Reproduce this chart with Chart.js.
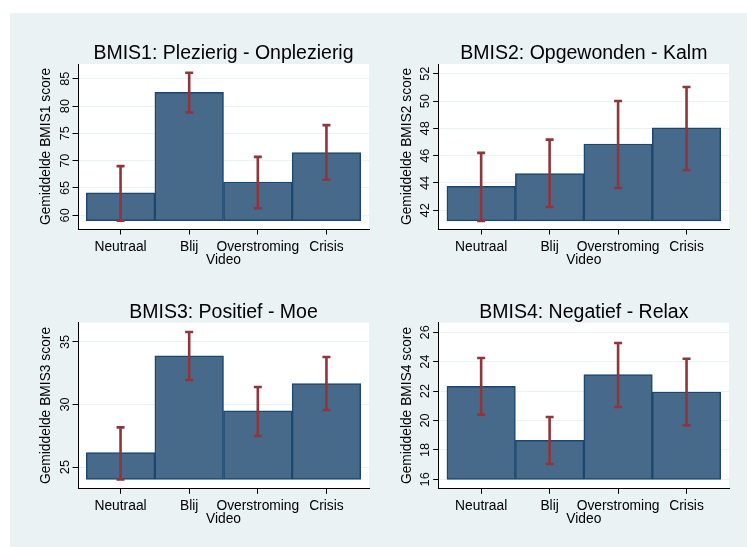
<!DOCTYPE html>
<html>
<head>
<meta charset="utf-8">
<script src="https://cdn.jsdelivr.net/npm/chart.js@4.4.1/dist/chart.umd.min.js"></script>
<style>
  body { margin: 0; background: #fff; }
  #wrap { position: relative; width: 747px; height: 547px; overflow: hidden; }
  #bg { position: absolute; left: 10px; top: 13px; right: 0; bottom: 0; background: #eaf2f3; }
  canvas { position: absolute; }
</style>
</head>
<body>
<div id="wrap">
  <div id="bg"></div>
  <canvas id="c1" width="368" height="262" style="left:10px;top:13px"></canvas>
  <canvas id="c2" width="369" height="262" style="left:378px;top:13px"></canvas>
  <canvas id="c3" width="368" height="272" style="left:10px;top:275px"></canvas>
  <canvas id="c4" width="369" height="272" style="left:378px;top:275px"></canvas>
</div>
<script>
// categories
const videos = ['Neutraal', 'Blij', 'Overstroming', 'Crisis'];

// mean scores and confidence bounds per panel
const bmis1Mean = [64.1, 82.5, 66.1, 71.5];
const bmis1Lo   = [59.0, 78.8, 61.3, 66.5];
const bmis1Hi   = [69.0, 86.1, 70.7, 76.5];

const bmis2Mean = [43.76, 44.68, 46.85, 48.03];
const bmis2Lo   = [41.22, 42.24, 43.63, 44.95];
const bmis2Hi   = [46.2, 47.17, 50.0, 51.03];

const bmis3Mean = [26.15, 33.9, 29.5, 31.67];
const bmis3Lo   = [24.0, 31.96, 27.48, 29.56];
const bmis3Hi   = [28.17, 35.8, 31.4, 33.8];

const bmis4Mean = [22.33, 18.65, 23.12, 21.94];
const bmis4Lo   = [20.4, 17.04, 20.92, 19.67];
const bmis4Hi   = [24.25, 20.24, 25.27, 24.2];

// bar baselines and axis ranges
const barBase = [59.0, 41.22, 24.0, 16.0];
const yMin = [57.49, 40.63, 23.3, 15.39];
const yMax = [87.69, 52.71, 36.54, 26.65];
const yStep = [5, 2, 5, 2];

const titles = ['BMIS1: Plezierig - Onplezierig', 'BMIS2: Opgewonden - Kalm',
                'BMIS3: Positief - Moe', 'BMIS4: Negatief - Relax'];
const yTitles = ['Gemiddelde BMIS1 score', 'Gemiddelde BMIS2 score',
                 'Gemiddelde BMIS3 score', 'Gemiddelde BMIS4 score'];
const xTitle = 'Video';

const FONT = "'Liberation Sans', Arial, sans-serif";
const BAR_FILL = '#486a8a';
const BAR_LINE = '#1a476f';
const CI_COLOR = '#90353b';

// panel geometry: canvas box and wanted plot area (page px)
const panels = [
  { id: 'c1', cx: 10,  cy: 13,  cw: 368, ch: 262, left: 78,    right: 369, top: 64,    bottom: 229 },
  { id: 'c2', cx: 378, cy: 13,  cw: 369, ch: 262, left: 438.7, right: 729, top: 64,    bottom: 229 },
  { id: 'c3', cx: 10,  cy: 275, cw: 368, ch: 272, left: 78,    right: 369, top: 322.7, bottom: 488.3 },
  { id: 'c4', cx: 378, cy: 275, cw: 369, ch: 272, left: 438.7, right: 729, top: 322.7, bottom: 488.3 }
];

const series = [
  [bmis1Mean, bmis1Lo, bmis1Hi],
  [bmis2Mean, bmis2Lo, bmis2Hi],
  [bmis3Mean, bmis3Lo, bmis3Hi],
  [bmis4Mean, bmis4Lo, bmis4Hi]
];

const X_AXIS_H = 40;

// white plot region, title, rotated y labels, CI bars
const stataPlugin = {
  id: 'stata',
  beforeDraw(chart) {
    const { ctx, chartArea: a } = chart;
    ctx.save();
    ctx.fillStyle = '#ffffff';
    ctx.fillRect(a.left, a.top, a.right - a.left, a.bottom - a.top);
    ctx.restore();
  },
  afterDatasetsDraw(chart) {
    const { ctx, scales: { x, y } } = chart;
    const o = chart.options.plugins.stata;
    ctx.save();
    ctx.strokeStyle = CI_COLOR;
    ctx.lineWidth = 2.6;
    ctx.lineCap = 'butt';
    o.lo.forEach((lo, i) => {
      const px = x.getPixelForValue(i);
      const y1 = y.getPixelForValue(lo);
      const y2 = y.getPixelForValue(o.hi[i]);
      ctx.beginPath();
      ctx.moveTo(px, y1); ctx.lineTo(px, y2);
      ctx.moveTo(px - 4, y1); ctx.lineTo(px + 4, y1);
      ctx.moveTo(px - 4, y2); ctx.lineTo(px + 4, y2);
      ctx.stroke();
    });
    ctx.restore();
  },
  afterDraw(chart) {
    const { ctx, chartArea: a, scales: { y } } = chart;
    const o = chart.options.plugins.stata;
    ctx.save();
    ctx.fillStyle = '#000';
    ctx.font = '19.5px ' + FONT;
    ctx.textAlign = 'center';
    ctx.textBaseline = 'alphabetic';
    ctx.fillText(o.title, (a.left + a.right) / 2, a.top - 4.6);

    ctx.font = '12.8px ' + FONT;
    y.ticks.forEach(t => {
      const py = y.getPixelForValue(t.value);
      ctx.save();
      ctx.translate(a.left - 9.5, py);
      ctx.rotate(-Math.PI / 2);
      ctx.fillText(String(t.value), 0, 0);
      ctx.restore();
    });
    ctx.restore();
  }
};

panels.forEach((p, k) => {
  const [mean, lo, hi] = series[k];
  const padTop = p.top - p.cy;
  const yWidth = p.left - p.cx;
  const padRight = p.cx + p.cw - p.right;
  const padBottom = p.cy + p.ch - p.bottom - X_AXIS_H;
  const lh = 13.8 * 1.2;

  new Chart(document.getElementById(p.id), {
    type: 'bar',
    data: {
      datasets: [{
        data: videos.map((v, i) => ({ x: i, y: [barBase[k], mean[i]] })),
        backgroundColor: BAR_FILL,
        borderColor: BAR_LINE,
        borderWidth: 1.5,
        borderSkipped: false,
        barPercentage: 1,
        categoryPercentage: 1
      }]
    },
    options: {
      responsive: false,
      animation: false,
      events: [],
      layout: { padding: { top: padTop, left: 0, right: padRight, bottom: padBottom } },
      plugins: {
        legend: { display: false },
        title: { display: false },
        tooltip: { enabled: false },
        stata: { title: titles[k], lo: lo, hi: hi }
      },
      scales: {
        x: {
          type: 'linear',
          offset: false,
          min: -0.62,
          max: 3.62,
          afterFit: s => { s.height = X_AXIS_H; },
          grid: { offset: false, drawOnChartArea: false, drawTicks: true, tickLength: 5.5, tickColor: '#000' },
          border: { display: true, color: '#000', width: 1 },
          ticks: {
            stepSize: 1,
            includeBounds: false,
            autoSkip: false,
            minRotation: 0,
            maxRotation: 0,
            padding: 4.2,
            color: '#000',
            font: { family: FONT, size: 13.8 },
            callback: v => videos[v] ?? ''
          },
          title: {
            display: true,
            text: xTitle,
            color: '#000',
            font: { family: FONT, size: 13.8 },
            padding: { top: 0, bottom: X_AXIS_H - 31.3 - lh / 2 }
          }
        },
        y: {
          min: yMin[k],
          max: yMax[k],
          afterFit: s => { s.width = yWidth; },
          grid: { color: '#eaf2f3', lineWidth: 1, drawTicks: true, tickLength: 5.5, tickColor: '#000' },
          border: { display: true, color: '#000', width: 1 },
          ticks: {
            stepSize: yStep[k],
            includeBounds: false,
            display: false
          },
          title: {
            display: true,
            text: yTitles[k],
            color: '#000',
            font: { family: FONT, size: 13.8 },
            padding: { top: (p.left - 32) - p.cx - lh / 2, bottom: 0 }
          }
        }
      }
    },
    plugins: [stataPlugin]
  });
});
</script>
</body>
</html>
